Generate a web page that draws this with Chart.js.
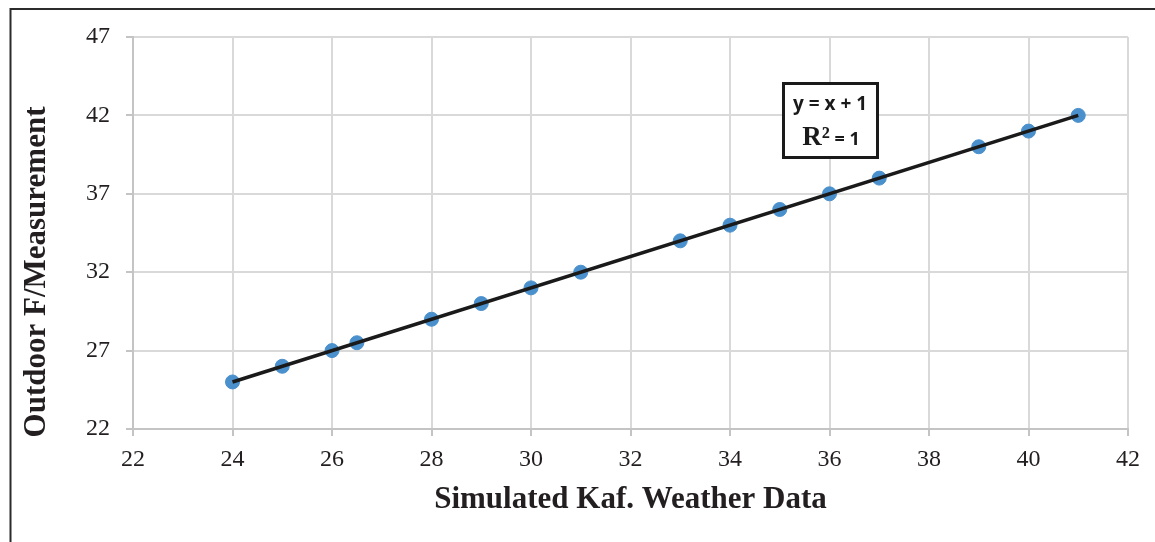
<!DOCTYPE html>
<html>
<head>
<meta charset="utf-8">
<script src="https://cdn.jsdelivr.net/npm/chart.js@4/dist/chart.umd.min.js"></script>
<style>
  html, body { margin: 0; padding: 0; background: #fff; }
  #wrap { position: relative; width: 1155px; height: 542px; }
</style>
</head>
<body>
<div id="wrap"><canvas id="chart" width="1155" height="542"></canvas></div>
<script>
// measured points
const simulated = [24, 25, 26, 26.5, 28, 29, 30, 31, 33, 34, 35, 36, 37, 39, 40, 41];
const measured = [25, 26, 27, 27.5, 29, 30, 31, 32, 34, 35, 36, 37, 38, 40, 41, 42];
// fitted line end points (y = x + 1)
const trendX = [24, 41];
const trendY = [25, 42];
const xTicks = [22, 24, 26, 28, 30, 32, 34, 36, 38, 40, 42];
const yTicks = [22, 27, 32, 37, 42, 47];
const yTitle = 'Outdoor F/Measurement';

const gridColor = '#d9d9d9';
const axisColor = '#c4c4c4';
const serif = '"Liberation Serif", "DejaVu Serif", serif';
const tickFont = { family: serif, size: 24 };

// frame of the figure, y title (sits lower than the plot centre) and the equation box
const extras = {
    id: 'extras',
    afterDraw(chart) {
        const c = chart.ctx;
        c.save();
        c.strokeStyle = '#2b2b2b';
        c.lineWidth = 2;
        c.beginPath();
        c.moveTo(10.5, 542);
        c.lineTo(10.5, 9);
        c.lineTo(1155, 9);
        c.stroke();

        c.save();
        c.translate(37, 272);
        c.rotate(-Math.PI / 2);
        c.fillStyle = '#231f20';
        c.font = 'bold 31px ' + serif;
        c.textAlign = 'center';
        c.textBaseline = 'middle';
        c.fillText(yTitle, 0, 0);
        c.restore();

        // equation box
        c.fillStyle = '#fff';
        c.fillRect(783, 83, 95, 75);
        c.strokeStyle = '#1a1a1a';
        c.lineWidth = 3;
        c.strokeRect(783.5, 83.5, 94, 74);
        c.fillStyle = '#1a1a1a';
        c.textBaseline = 'alphabetic';
        c.textAlign = 'center';
        const sans = '"Open Sans", "Noto Sans", sans-serif';
        c.font = 'bold 19px ' + sans;
        c.fillText('y = x + 1', 830, 110);
        c.textAlign = 'left';
        c.font = 'bold 27px ' + serif;
        const r = 'R²';
        const rw = c.measureText(r).width;
        c.font = 'bold 18px ' + sans;
        const ew = c.measureText(' = 1').width;
        const sx = 831 - (rw + ew) / 2;
        c.font = 'bold 27px ' + serif;
        c.fillText(r, sx, 145);
        c.font = 'bold 18px ' + sans;
        c.fillText(' = 1', sx + rw, 145);
        c.restore();
    }
};

new Chart(document.getElementById('chart'), {
    type: 'scatter',
    data: {
        datasets: [
            {
                label: 'Linear',
                type: 'line',
                data: trendX.map((x, i) => ({ x: x, y: trendY[i] })),
                borderColor: '#1a1a1a',
                borderWidth: 3.5,
                pointRadius: 0,
                fill: false,
                order: 0
            },
            {
                label: 'Measured',
                data: simulated.map((x, i) => ({ x: x, y: measured[i] })),
                backgroundColor: '#4a90cc',
                borderColor: '#4a90cc',
                pointRadius: 7,
                pointHoverRadius: 7,
                order: 1
            }
        ]
    },
    options: {
        responsive: false,
        animation: false,
        layout: { padding: { left: 0, right: 27, top: 37, bottom: 0 } },
        plugins: { legend: { display: false }, tooltip: { enabled: false } },
        scales: {
            x: {
                type: 'linear',
                min: 22, max: 42,
                afterBuildTicks: s => { s.ticks = xTicks.map(v => ({ value: v })); },
                afterFit: s => { s.height = 542 - 429; },
                grid: { color: gridColor, lineWidth: 2, tickLength: 7, tickColor: axisColor },
                border: { color: axisColor, width: 2 },
                ticks: { color: '#231f20', font: tickFont, padding: 9, maxRotation: 0 },
                title: { display: true, text: 'Simulated Kaf. Weather Data', color: '#231f20',
                         font: { family: serif, size: 31, weight: 'bold' }, padding: { top: 23, bottom: 23 } }
            },
            y: {
                type: 'linear',
                min: 22, max: 47,
                afterBuildTicks: s => { s.ticks = yTicks.map(v => ({ value: v })); },
                afterFit: s => { s.width = 133; },
                grid: { color: gridColor, lineWidth: 2, tickLength: 7, tickColor: axisColor },
                border: { color: axisColor, width: 2 },
                ticks: { color: '#231f20', font: tickFont, padding: 16 },
                title: { display: false }
            }
        }
    },
    plugins: [extras]
});
</script>
</body>
</html>
